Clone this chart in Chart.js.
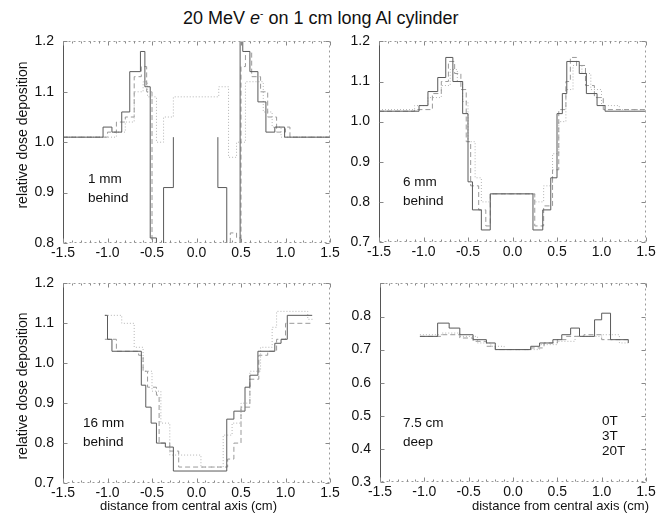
<!DOCTYPE html>
<html><head><meta charset="utf-8">
<script src="https://cdn.jsdelivr.net/npm/chart.js@4/dist/chart.umd.min.js"></script>
<style>
body{margin:0;background:#fff;width:664px;height:523px;position:relative;overflow:hidden;font-family:"Liberation Sans",Arial,sans-serif;color:#111}
canvas{position:absolute}
.t{position:absolute;white-space:nowrap;color:#111;font-size:13.5px;line-height:19px}
.yt{position:absolute;white-space:nowrap;font-size:14px;line-height:16px;transform:translate(-50%,-50%) rotate(-90deg)}
.xt{position:absolute;white-space:nowrap;font-size:13px;line-height:16px}
</style></head><body>
<div class="t" style="left:183px;top:4px;font-size:18px;line-height:20px">20 MeV <i>e</i><sup style="font-size:10px;vertical-align:7px">-</sup> on 1 cm long Al cylinder</div>

<canvas id="c1" width="344" height="240" style="left:0;top:30px"></canvas>
<canvas id="c2" width="320" height="239" style="left:340px;top:30px"></canvas>
<canvas id="c3" width="344" height="240" style="left:0;top:270px"></canvas>
<canvas id="c4" width="320" height="239" style="left:340px;top:270px"></canvas>

<div class="yt" style="left:22px;top:135px">relative dose deposition</div>
<div class="yt" style="left:22px;top:386px">relative dose deposition</div>
<div class="xt" style="left:100px;top:498px">distance from central axis (cm)</div>
<div class="xt" style="left:472px;top:498px">distance from central axis (cm)</div>

<div class="t" style="left:88px;top:169px">1 mm<br>behind</div>
<div class="t" style="left:403px;top:172px">6 mm<br>behind</div>
<div class="t" style="left:83px;top:413px">16 mm<br>behind</div>
<div class="t" style="left:403px;top:413px">7.5 cm<br>deep</div>
<div class="t" style="left:602px;top:413px;line-height:15px">0T<br>3T<br>20T</div>

<script>
// ---- data (x in cm, y = relative dose; each point's value holds until the next point) ----
const xTickValues = [-1.5, -1.0, -0.5, 0.0, 0.5, 1.0, 1.5];
const seriesNames = ['0T', '3T', '20T'];

// 1 mm behind
const p1_0T = [[-1.5,1.01],[-1.05,1.03],[-0.95,1.02],[-0.84,1.06],[-0.75,1.14],[-0.63,1.18],[-0.58,1.11],[-0.52,0.81],[-0.45,0.5],[-0.37,0.91],[-0.26,1.01],[-0.26,null],[0.24,1.01],[0.24,0.91],[0.34,0.5],[0.49,1.25],[0.52,1.18],[0.6,1.14],[0.69,1.08],[0.78,1.02],[0.88,1.03],[0.99,1.01],[1.5,1.01]];
const p1_3T = [[-1.5,1.01],[-1.0,1.02],[-0.9,1.04],[-0.8,1.05],[-0.7,1.13],[-0.62,1.15],[-0.56,1.1],[-0.5,0.6],[0.38,0.82],[0.45,0.81],[0.5,1.15],[0.55,1.18],[0.62,1.13],[0.72,1.1],[0.8,1.05],[0.9,1.02],[1.0,1.03],[1.05,1.01],[1.5,1.01]];
const p1_20T = [[-1.5,1.01],[-1.1,1.01],[-0.9,1.02],[-0.8,1.04],[-0.7,1.1],[-0.6,1.12],[-0.55,1.09],[-0.45,1.0],[-0.37,1.05],[-0.26,1.09],[0.25,1.11],[0.36,0.97],[0.45,1.0],[0.55,1.12],[0.65,1.12],[0.75,1.06],[0.85,1.03],[0.95,1.01],[1.5,1.01]];

// 6 mm behind
const p2_0T = [[-1.5,1.026],[-1.05,1.04],[-0.95,1.075],[-0.84,1.11],[-0.75,1.16],[-0.67,1.1],[-0.56,1.02],[-0.5,0.85],[-0.45,0.78],[-0.35,0.73],[-0.25,0.82],[0.23,0.73],[0.34,0.78],[0.43,0.86],[0.5,1.02],[0.56,1.07],[0.61,1.15],[0.75,1.12],[0.83,1.07],[0.95,1.04],[1.04,1.026],[1.5,1.026]];
const p2_3T = [[-1.5,1.026],[-1.1,1.03],[-0.9,1.07],[-0.8,1.1],[-0.72,1.15],[-0.65,1.12],[-0.58,1.08],[-0.52,0.95],[-0.47,0.84],[-0.38,0.78],[-0.3,0.74],[-0.25,0.82],[0.25,0.74],[0.35,0.79],[0.45,0.88],[0.52,1.03],[0.6,1.1],[0.65,1.16],[0.72,1.14],[0.82,1.09],[0.92,1.06],[1.02,1.03],[1.5,1.026]];
const p2_20T = [[-1.5,1.03],[-1.1,1.04],[-0.95,1.06],[-0.8,1.09],[-0.7,1.13],[-0.62,1.1],[-0.56,1.05],[-0.5,0.95],[-0.42,0.86],[-0.35,0.8],[-0.25,0.82],[0.25,0.8],[0.35,0.84],[0.45,0.92],[0.52,1.0],[0.6,1.08],[0.68,1.14],[0.78,1.12],[0.88,1.08],[1.0,1.04],[1.2,1.03],[1.5,1.03]];

// 16 mm behind
const p3_0T = [[-1.03,1.12],[-1.0,1.06],[-0.95,1.03],[-0.62,0.945],[-0.57,0.89],[-0.51,0.85],[-0.45,0.8],[-0.35,0.79],[-0.26,0.73],[0.34,0.86],[0.42,0.88],[0.545,0.94],[0.6,0.97],[0.69,1.03],[0.88,1.05],[0.95,1.06],[1.02,1.12],[1.3,1.12]];
const p3_3T = [[-1.03,1.06],[-0.9,1.03],[-0.65,1.02],[-0.6,0.98],[-0.55,0.94],[-0.45,0.92],[-0.42,0.8],[-0.3,0.78],[-0.2,0.74],[0.35,0.76],[0.42,0.8],[0.5,0.89],[0.6,0.96],[0.7,1.02],[0.8,1.03],[0.9,1.06],[1.0,1.1],[1.3,1.1]];
const p3_20T = [[-1.03,1.12],[-0.84,1.1],[-0.7,1.04],[-0.6,0.98],[-0.5,0.93],[-0.4,0.85],[-0.3,0.77],[0.05,0.74],[0.3,0.82],[0.4,0.85],[0.5,0.9],[0.6,0.98],[0.72,1.04],[0.85,1.09],[0.9,1.13],[1.25,1.11],[1.32,1.11]];

// 7.5 cm deep
const p4_0T = [[-1.05,0.74],[-0.85,0.78],[-0.72,0.765],[-0.6,0.745],[-0.45,0.73],[-0.3,0.72],[-0.2,0.70],[0.2,0.71],[0.3,0.72],[0.45,0.73],[0.55,0.745],[0.65,0.765],[0.75,0.74],[0.92,0.79],[1.0,0.81],[1.1,0.73],[1.3,0.72]];
const p4_3T = [[-1.05,0.74],[-0.8,0.745],[-0.6,0.735],[-0.45,0.725],[-0.3,0.71],[-0.2,0.70],[0.2,0.705],[0.35,0.72],[0.5,0.73],[0.6,0.74],[0.8,0.745],[1.0,0.73],[1.3,0.725]];
const p4_20T = [[-1.05,0.745],[-0.8,0.75],[-0.6,0.74],[-0.4,0.72],[-0.25,0.71],[-0.1,0.70],[0.15,0.70],[0.3,0.715],[0.5,0.725],[0.7,0.74],[1.0,0.745],[1.2,0.72],[1.3,0.72]];

const styles = [
  {borderColor:'#5a5a5a', borderDash:[]},
  {borderColor:'#9a9a9a', borderDash:[5,3]},
  {borderColor:'#b4b4b4', borderDash:[1,2]}
];

const framePlugin = {
  id:'frame',
  afterDatasetsDraw(chart){
    const ctx = chart.ctx, a = chart.chartArea, xs = chart.scales.x, ys = chart.scales.y;
    const L = Math.round(a.left)+0.5, R = Math.round(a.right)-0.5, T = Math.round(a.top)+0.5, B = Math.round(a.bottom)-0.5;
    ctx.save();
    ctx.lineWidth = 1;
    ctx.strokeStyle = '#555'; ctx.setLineDash([]);
    ctx.beginPath(); ctx.moveTo(L,T); ctx.lineTo(L,B); ctx.stroke();
    ctx.strokeStyle = '#9a9a9a'; ctx.setLineDash([2,3]);
    ctx.beginPath(); ctx.moveTo(L,T); ctx.lineTo(R,T); ctx.lineTo(R,B); ctx.lineTo(L,B); ctx.stroke();
    ctx.setLineDash([]); ctx.strokeStyle = '#888';
    for (let i = 0; i <= 30; i++) {
      const v = -1.5 + i*0.1;
      const px = Math.round(xs.getPixelForValue(v)) + 0.5;
      const len = (i % 5 === 0) ? 4 : 2;
      ctx.beginPath(); ctx.moveTo(px,B); ctx.lineTo(px,B-len); ctx.moveTo(px,T); ctx.lineTo(px,T+len); ctx.stroke();
    }
    ys.ticks.forEach(t => {
      const py = Math.round(ys.getPixelForValue(t.value)) + 0.5;
      ctx.beginPath(); ctx.moveTo(L,py); ctx.lineTo(L+4,py); ctx.moveTo(R,py); ctx.lineTo(R-4,py); ctx.stroke();
    });
    ctx.restore();
  }
};

const FONT = '"Liberation Sans", Arial, sans-serif';

function buildConfig(series, yMin, yMax, yLabelMax, yWidth){
  const datasets = series.map((pts, i) => ({
    label: seriesNames[i],
    data: pts.map(p => ({x:p[0], y:p[1]})),
    stepped: 'before',
    borderWidth: 1,
    pointRadius: 0,
    fill: false,
    spanGaps: false,
    borderColor: styles[i].borderColor,
    borderDash: styles[i].borderDash
  }));
  return {
    type: 'line',
    data: {datasets},
    plugins: [framePlugin],
    options: {
      responsive: false,
      maintainAspectRatio: false,
      animation: false,
      devicePixelRatio: 1,
      layout: {padding: {top: 4, right: 14, left: 0, bottom: 0}},
      plugins: {legend: {display: false}, tooltip: {enabled: false}},
      scales: {
        x: {
          type: 'linear', min: -1.5, max: 1.5,
          afterBuildTicks: s => { s.ticks = xTickValues.map(v => ({value: v})); },
          ticks: {font: {family: FONT, size: 14}, color: '#111', padding: 2, maxRotation: 0,
                  callback: v => Number(v).toFixed(1)},
          grid: {display: false, drawTicks: false}, border: {display: false},
          afterFit: s => { s.height = 27; }
        },
        y: {
          min: yMin, max: yMax,
          ticks: {stepSize: 0.1, font: {family: FONT, size: 14}, color: '#111', padding: 9,
                  callback: v => (v > yLabelMax + 1e-6 ? '' : (Math.round(v*10)/10).toFixed(1))},
          grid: {display: false, drawTicks: false}, border: {display: false},
          afterFit: s => { s.width = yWidth; }
        }
      }
    }
  };
}

// place a panel so its plot area lands on the given page rectangle
function makePanel(id, series, yMin, yMax, yLabelMax, yWidth, rect){
  const canvas = document.getElementById(id);
  let chart = new Chart(canvas, buildConfig(series, yMin, yMax, yLabelMax, yWidth));
  for (let k = 0; k < 2; k++) {
    const a = chart.chartArea;
    const dw = Math.round((rect.R - rect.L) - (a.right - a.left));
    const dh = Math.round((rect.B - rect.T) - (a.bottom - a.top));
    if (dw === 0 && dh === 0) break;
    const w = canvas.width + dw, h = canvas.height + dh;
    chart.destroy();
    canvas.width = w; canvas.height = h;
    canvas.style.width = w + 'px'; canvas.style.height = h + 'px';
    chart = new Chart(canvas, buildConfig(series, yMin, yMax, yLabelMax, yWidth));
  }
  const a = chart.chartArea;
  canvas.style.left = Math.round(rect.L - a.left) + 'px';
  canvas.style.top = Math.round(rect.T - a.top) + 'px';
}

makePanel('c1', [p1_0T, p1_3T, p1_20T], 0.8, 1.2, 1.2, 63, {L:63, T:41, R:330, B:243});
makePanel('c2', [p2_0T, p2_3T, p2_20T], 0.7, 1.2, 1.2, 39, {L:379, T:41, R:646, B:242});
makePanel('c3', [p3_0T, p3_3T, p3_20T], 0.7, 1.2, 1.2, 63, {L:63, T:283, R:330, B:483});
makePanel('c4', [p4_0T, p4_3T, p4_20T], 0.3, 0.9, 0.8, 40, {L:380, T:283, R:646, B:482});
</script>
</body></html>
